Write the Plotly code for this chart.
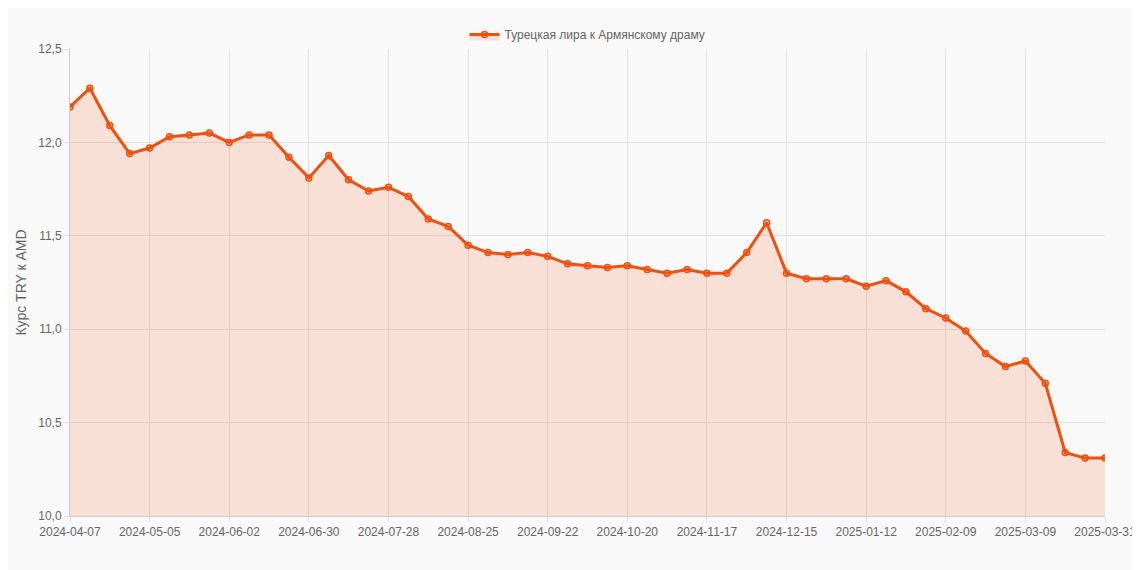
import plotly.graph_objects as go
import pandas as pd

dates = [d.strftime("%Y-%m-%d") for d in pd.date_range("2024-04-07", "2025-03-30", freq="7D")] + ["2025-03-31"]
rates = [12.19, 12.29, 12.09, 11.94, 11.97, 12.03, 12.04, 12.05, 12.00, 12.04,
         12.04, 11.92, 11.81, 11.93, 11.80, 11.74, 11.76, 11.71, 11.59, 11.55,
         11.45, 11.41, 11.40, 11.41, 11.39, 11.35, 11.34, 11.33, 11.34, 11.32,
         11.30, 11.32, 11.30, 11.30, 11.41, 11.57, 11.30, 11.27, 11.27, 11.27,
         11.23, 11.26, 11.20, 11.11, 11.06, 10.99, 10.87, 10.80, 10.83, 10.71,
         10.34, 10.31, 10.31]
y_ticks = [10.0, 10.5, 11.0, 11.5, 12.0, 12.5]

color = "#f0500f"
fig = go.Figure()
fig.add_trace(go.Scatter(
    x=list(range(len(rates))), y=rates, mode="lines+markers",
    name="Турецкая лира к Армянскому драму",
    line=dict(color=color, width=3),
    marker=dict(size=6, color="rgba(240,80,15,0.3)", line=dict(color=color, width=1.5)),
    fill="tozeroy", fillcolor="rgba(240,80,15,0.15)",
))
tick_idx = list(range(0, 49, 4)) + [len(dates) - 1]
fig.update_layout(
    width=1140, height=570,
    paper_bgcolor="#f9f9f9", plot_bgcolor="#f9f9f9",
    font=dict(family="Liberation Sans, Arial", size=12, color="#666"),
    margin=dict(l=54, r=34, t=24, b=62),
    showlegend=True,
    legend=dict(orientation="h", x=0.5, xanchor="center", y=1.0, yanchor="bottom",
                font=dict(size=12, color="#666")),
    xaxis=dict(range=[0, len(dates) - 1], tickvals=tick_idx,
               ticktext=[dates[i] for i in tick_idx], showgrid=True,
               gridcolor="#e0e0e0", showline=True, linecolor="#ccc", zeroline=False,
               ticks="outside", ticklen=5, tickcolor="#e0e0e0"),
    yaxis=dict(range=[10, 12.5], tickvals=y_ticks,
               ticktext=[f"{v:.1f}".replace(".", ",") for v in y_ticks],
               title=dict(text="Курс TRY к AMD", standoff=8),
               showgrid=True, gridcolor="#e0e0e0", showline=True, linecolor="#ccc",
               zeroline=False, ticks="outside", ticklen=5, tickcolor="#e0e0e0"),
)
fig.write_html("out.html")
